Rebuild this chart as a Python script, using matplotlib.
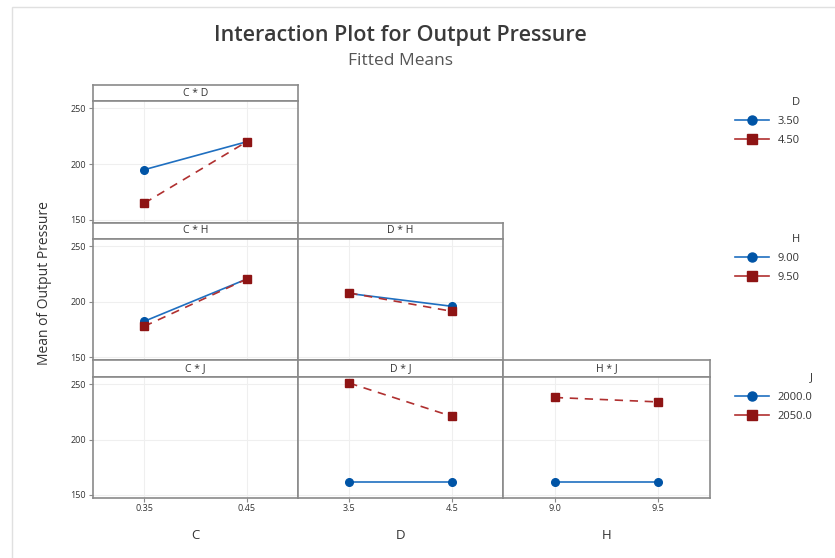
import matplotlib.pyplot as plt
from matplotlib.lines import Line2D
from matplotlib.patches import Rectangle

plt.rcParams['font.family'] = ['Open Sans', 'DejaVu Sans']

# factor levels
c_levels = [0.35, 0.45]
d_levels = [3.5, 4.5]
h_levels = [9.0, 9.5]
d_labels = ['3.50', '4.50']
h_labels = ['9.00', '9.50']
j_labels = ['2000.0', '2050.0']

# fitted means, one list per level of the trace factor
cd_d350 = [195.0, 220.0]
cd_d450 = [165.0, 220.0]
ch_h900 = [182.5, 220.5]
ch_h950 = [178.0, 220.5]
dh_h900 = [207.5, 196.0]
dh_h950 = [208.0, 191.5]
dj_j2000 = [162.0, 162.0]
dj_j2050 = [251.0, 221.0]
hj_j2000 = [162.0, 162.0]
hj_j2050 = [238.0, 234.0]

BLUE = '#0054a6'
BLUE_LINE = '#1f6fc0'
RED = '#8e1414'
RED_LINE = '#b03030'
EDGE = '#8a8a8a'
TXT = '#333333'

W, H = 835, 558
fig = plt.figure(figsize=(W / 100, H / 100), dpi=100)


def rect(x0, y0, x1, y1):
    # pixel box (y measured from the top) -> figure fraction
    return [x0 / W, 1 - y1 / H, (x1 - x0) / W, (y1 - y0) / H]


cols = [(93, 298), (298, 503), (503, 710)]
rows = [(85, 101, 222.5), (222.5, 239, 360), (360, 377, 497.5)]
col_info = [('C', c_levels, (0.30, 0.50), ['0.35', '0.45']),
            ('D', d_levels, (3.0, 5.0), ['3.5', '4.5']),
            ('H', h_levels, (8.75, 9.75), ['9.0', '9.5'])]

panels = {
    (0, 0): ('C * D', cd_d350, cd_d450),
    (1, 0): ('C * H', ch_h900, ch_h950),
    (1, 1): ('D * H', dh_h900, dh_h950),
    (2, 0): ('C * J', None, None),
    (2, 1): ('D * J', dj_j2000, dj_j2050),
    (2, 2): ('H * J', hj_j2000, hj_j2050),
}

for (r, c), (title, s1, s2) in panels.items():
    x0, x1 = cols[c]
    top, mid, bot = rows[r]
    name, levels, xlim, xtl = col_info[c]

    # strip header
    sax = fig.add_axes(rect(x0, top, x1, mid))
    sax.set_xticks([])
    sax.set_yticks([])
    for sp in sax.spines.values():
        sp.set_color(EDGE)
        sp.set_linewidth(1.2)
    sax.text(0.5, 0.5, title, ha='center', va='center', fontsize=7.5,
             color=TXT, transform=sax.transAxes)

    ax = fig.add_axes(rect(x0, mid, x1, bot))
    ax.set_xlim(*xlim)
    ax.set_ylim(147.7, 256.5)
    ax.set_xticks(levels)
    ax.set_yticks([150, 200, 250])
    ax.grid(True, color='#efefef', lw=0.8)
    ax.set_axisbelow(True)
    for sp in ax.spines.values():
        sp.set_color(EDGE)
        sp.set_linewidth(1.2)
    ax.tick_params(colors=EDGE, labelcolor=TXT, labelsize=6.5, length=3,
                   width=0.8, pad=2)
    if c == 0:
        ax.set_yticklabels(['150', '200', '250'])
    else:
        ax.tick_params(axis='y', left=False, labelleft=False)
    if r == 2:
        ax.set_xticklabels(xtl)
        ax.set_xlabel(name, fontsize=9.5, color=TXT, labelpad=11)
    else:
        ax.tick_params(axis='x', bottom=False, labelbottom=False)

    if s1 is not None:
        ax.plot(levels, s1, color=BLUE_LINE, lw=1.2, marker='o', ms=5.5,
                mfc=BLUE, mec=BLUE, zorder=3)
        ax.plot(levels, s2, color=RED_LINE, lw=1.2, ls=(0, (5, 4)),
                marker='s', ms=5.5, mfc=RED, mec=RED, zorder=3)

fig.text(45 / W, 1 - 283 / H, 'Mean of Output Pressure', rotation=90,
         ha='center', va='center', fontsize=10, color=TXT)

fig.text(400 / W, 1 - 35 / H, 'Interaction Plot for Output Pressure',
         ha='center', va='center', fontsize=15.5, fontweight='semibold',
         color='#3a3a3a')
fig.text(401 / W, 1 - 61 / H, 'Fitted Means', ha='center', va='center',
         fontsize=12.5, color='#555555')

# one legend per trace factor
for lbl, texts, ytop in [('D', d_labels, 91), ('H', h_labels, 228),
                         ('J', j_labels, 367)]:
    handles = [
        Line2D([], [], color=BLUE_LINE, lw=1.2, marker='o', ms=6.5,
               mfc=BLUE, mec=BLUE),
        Line2D([], [], color=RED_LINE, lw=1.2, marker='s', ms=6.5,
               mfc=RED, mec=RED),
    ]
    leg = fig.legend(handles, texts, title=lbl, loc='upper left',
                     bbox_to_anchor=(729 / W, 1 - ytop / H), frameon=False,
                     fontsize=8, title_fontsize=8, handlelength=3.1,
                     handletextpad=0.8, labelspacing=0.75, borderpad=0,
                     alignment='right')
    for t in leg.get_texts():
        t.set_color(TXT)
    leg.get_title().set_color(TXT)

# thin frame around the graph region
fig.add_artist(Rectangle((12 / W, -0.01), 1, 1 - 6.5 / H + 0.01,
                         transform=fig.transFigure, fill=False,
                         edgecolor='#e0e0e0', lw=1.0))

fig.savefig('out.png', dpi=100)
